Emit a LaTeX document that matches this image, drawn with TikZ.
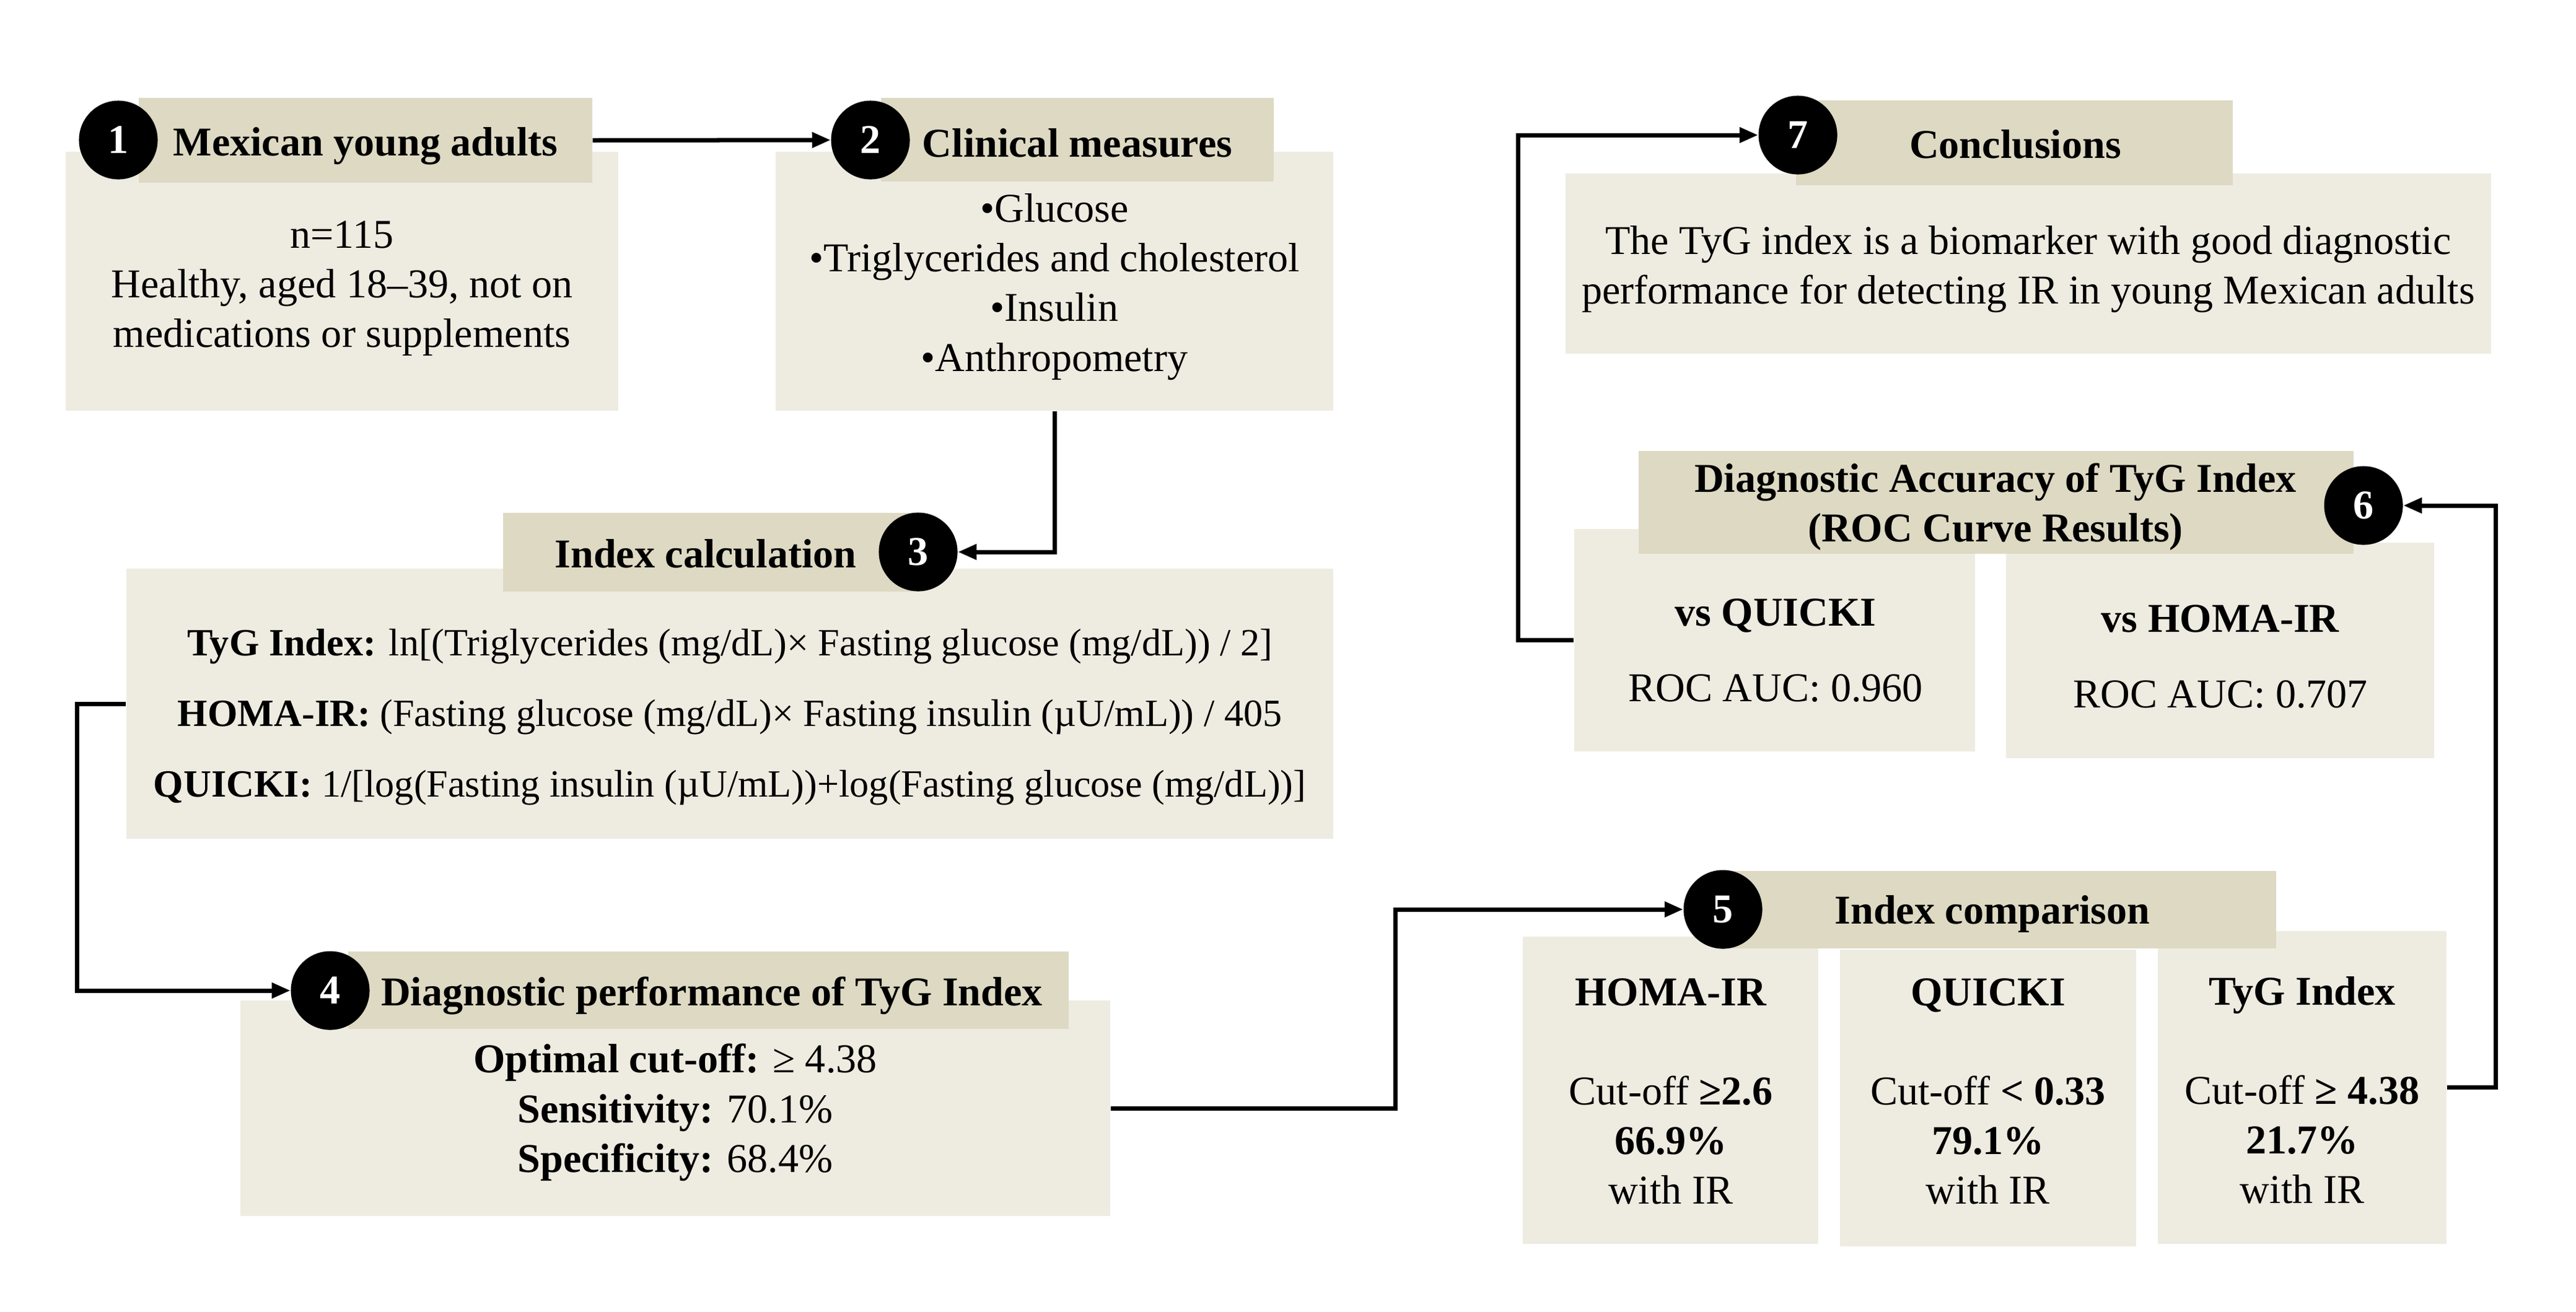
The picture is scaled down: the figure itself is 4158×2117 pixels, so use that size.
\documentclass[tikz,border=0pt]{standalone}
\usepackage{fontspec}
\setmainfont{Liberation Serif}
\usetikzlibrary{fit,arrows.meta}
\definecolor{hdr}{HTML}{DDD9C3}
\definecolor{bdy}{HTML}{EEECE1}
\newcommand\fnt{\fontsize{18.8}{22.8}\selectfont}
\begin{document}
\begin{tikzpicture}[x=0.01cm,y=-0.01cm,
  bodybox/.style={fill=bdy, draw=none, inner sep=0pt},
  hdrbox/.style={fill=hdr, draw=none, inner sep=0pt},
  num/.style={circle, fill=black, text=white, font=\fnt\bfseries, minimum size=1.27cm, inner sep=0pt},
  txt/.style={font=\fnt, align=center, inner sep=0pt},
  htxt/.style={font=\fnt\bfseries, align=center, inner sep=0pt},
  arr/.style={line width=0.07cm, -{Triangle[length=0.3cm,width=0.24cm]}}]
\fill[white] (0,0) rectangle (4158,2117);
\useasboundingbox (0,0) rectangle (4158,2117);

% ---- bodies
\node[bodybox, fit={(106,245) (998,663)}] (b1) {};
\node[bodybox, fit={(1252,245) (2152,663)}] (b2) {};
\node[bodybox, fit={(204,918) (2152,1354)}] (b3) {};
\node[bodybox, fit={(388,1615) (1792,1963)}] (b4) {};
\node[bodybox, fit={(2458,1512) (2935,2008)}] (s5a) {};
\node[bodybox, fit={(2970,1533) (3448,2012)}] (s5b) {};
\node[bodybox, fit={(3483,1503) (3949,2008)}] (s5c) {};
\node[bodybox, fit={(2541,854) (3188,1213)}] (q6) {};
\node[bodybox, fit={(3238,876) (3929,1224)}] (m6) {};
\node[bodybox, fit={(2527,280) (4021,571)}] (b7) {};

% ---- headers
\node[hdrbox, fit={(224,158) (956,295)}] (h1) {};
\node[hdrbox, fit={(1422,158) (2056,293)}] (h2) {};
\node[hdrbox, fit={(812,828) (1473,955)}] (h3) {};
\node[hdrbox, fit={(562,1536) (1725,1661)}] (h4) {};
\node[hdrbox, fit={(2782,1406) (3674,1531)}] (h5) {};
\node[hdrbox, fit={(2645,728) (3799,894)}] (h6) {};
\node[hdrbox, fit={(2899,162) (3604,299)}] (h7) {};

% ---- number circles
\node[num] (c1) at (191,226) {1};
\node[num] (c2) at (1405,226) {2};
\node[num] (c3) at (1482,891) {3};
\node[num] (c4) at (533,1599) {4};
\node[num] (c5) at (2781,1468) {5};
\node[num] (c6) at (3815,816) {6};
\node[num] (c7) at (2902,218) {7};

% ---- header texts
\node[htxt] (t1) at (590,236) {Mexican young adults};
\node[htxt] (t2) at (1739,231) {Clinical measures};
\node[htxt] (t3) at (1139,894) {Index calculation};
\node[htxt] (t4) at (1149,1607) {Diagnostic performance of TyG Index};
\node[htxt] (t5) at (3216,1476) {Index comparison};
\node[htxt] (t6) at (3221,818) {Diagnostic Accuracy of TyG Index\\(ROC Curve Results)};
\node[htxt] (t7) at (3253,233) {Conclusions};

% ---- body texts
\node[txt] (x1) at (552,466) {n=115\\Healthy, aged 18--39, not on\\medications or supplements};
\node[txt] (x2) at (1702,463) {•Glucose\\•Triglycerides and cholesterol\\•Insulin\\•Anthropometry};
\node[txt, font=\fontsize{17.7}{32.4}\selectfont] (x3) at (1178,1158) {\textbf{TyG Index:} ln[(Triglycerides (mg/dL)× Fasting glucose (mg/dL)) / 2]\\
\textbf{HOMA-IR:} (Fasting glucose (mg/dL)× Fasting insulin (µU/mL)) / 405\\
\textbf{QUICKI:} 1/[log(Fasting insulin (µU/mL))+log(Fasting glucose (mg/dL))]};
\node[txt] (x4) at (1090,1796) {\textbf{Optimal cut-off:} ≥ 4.38\\\textbf{Sensitivity:} 70.1\%\\\textbf{Specificity:} 68.4\%};
\node[txt] (x5a) at (2697,1762) {\textbf{HOMA-IR}\\[0.8cm]Cut-off \textbf{≥2.6}\\\textbf{66.9\%}\\with IR};
\node[txt] (x5b) at (3209,1762) {\textbf{QUICKI}\\[0.8cm]Cut-off \textbf{< 0.33}\\\textbf{79.1\%}\\with IR};
\node[txt] (x5c) at (3716,1760) {\textbf{TyG Index}\\[0.8cm]Cut-off \textbf{≥ 4.38}\\\textbf{21.7\%}\\with IR};
\node[txt] (x6a) at (2866,1050) {\textbf{vs QUICKI}\\[0.41cm]ROC AUC: 0.960};
\node[txt] (x6b) at (3584,1060) {\textbf{vs HOMA-IR}\\[0.41cm]ROC AUC: 0.707};
\node[txt] (x7) at (3274,435) {The TyG index is a biomarker with good diagnostic\\performance for detecting IR in young Mexican adults};

% ---- connectors
\draw[arr] (h1.east) -- (c2.west);
\draw[arr] (b2.south) |- (c3.east);
\draw[arr] (b3.west) -- ++(-79,0) |- (c4.west);
\draw[arr] (b4.east) -- ++(460,0) |- (c5.west);
\draw[arr] (s5c.east) -- ++(79,0) |- (c6.east);
\draw[arr] (q6.west) -- ++(-90,0) |- (c7.west);
\end{tikzpicture}
\end{document}
